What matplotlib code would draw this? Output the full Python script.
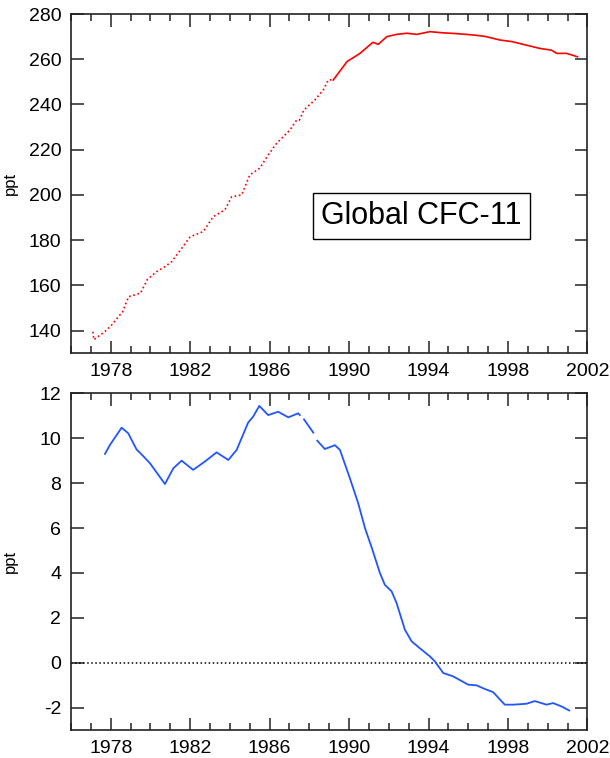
import matplotlib.pyplot as plt
from matplotlib.ticker import MultipleLocator, FixedLocator
import numpy as np

plt.rcParams['font.family'] = ['Liberation Sans', 'DejaVu Sans']
plt.rcParams['axes.unicode_minus'] = False

# CFC-11 mixing ratio (ppt), early record shown dotted, later record solid
cfc_years_early = [1977.1, 1977.15, 1977.7, 1978.05, 1978.6, 1978.9, 1979.5, 1979.85,
                   1980.3, 1980.73, 1981.07, 1981.82, 1982.0, 1982.66, 1983.16, 1983.75,
                   1984.09, 1984.59, 1985.0, 1985.5, 1985.93, 1986.35, 1987.02, 1987.36,
                   1987.5, 1987.73, 1988.28, 1988.7, 1988.95, 1989.2]
cfc_early = [139.5, 136.0, 139.5, 142.5, 148.4, 155.0, 156.6, 162.7,
             166.0, 168.3, 170.5, 179.3, 181.5, 183.8, 190.4, 193.4,
             199.2, 200.0, 208.8, 211.8, 217.7, 222.8, 228.7, 233.1,
             233.1, 237.6, 242.0, 246.4, 250.8, 251.0]

cfc_years_late = [1989.2, 1989.9, 1990.55, 1991.2, 1991.47, 1991.9, 1992.4, 1992.9,
                  1993.4, 1994.07, 1994.7, 1995.3, 1995.9, 1996.4, 1996.9, 1997.6,
                  1998.2, 1998.76, 1999.6, 2000.2, 2000.45, 2000.95, 2001.5]
cfc_late = [250.8, 259.0, 262.6, 267.5, 266.6, 270.0, 271.0, 271.5,
            271.0, 272.2, 271.7, 271.4, 271.0, 270.6, 270.0, 268.5,
            267.8, 266.6, 264.8, 264.0, 262.6, 262.6, 261.1]

# growth rate (ppt/yr); NaN marks gaps in the record
rate_years = [1977.71, 1977.96, 1978.55, 1978.88, 1979.3, 1979.64, 1979.98, 1980.73,
              1981.15, 1981.57, 1982.15, 1982.74, 1983.33, 1983.92, 1984.34, 1984.92,
              1985.17, 1985.48, 1985.93, 1986.43, 1986.94, 1987.44, 1987.52,
              1987.6,
              1987.73, 1988.2,
              1988.3,
              1988.4, 1988.78, 1989.29, 1989.54, 1990.04, 1990.46, 1990.8, 1991.15,
              1991.55, 1991.8, 1992.14, 1992.39, 1992.81, 1993.15, 1993.65, 1994.07,
              1994.32, 1994.74, 1995.24, 1996.0, 1996.42, 1996.83, 1997.25, 1997.84,
              1998.26, 1998.93, 1999.35, 1999.94, 2000.27, 2000.7, 2001.08]
rate = [9.30, 9.70, 10.47, 10.22, 9.50, 9.20, 8.88, 7.96,
        8.66, 9.00, 8.59, 8.96, 9.37, 9.03, 9.48, 10.70,
        10.96, 11.44, 11.03, 11.18, 10.93, 11.11, 11.03,
        np.nan,
        10.84, 10.25,
        np.nan,
        9.89, 9.52, 9.69, 9.48, 8.22, 7.10, 6.00, 5.10,
        4.00, 3.47, 3.18, 2.66, 1.47, 0.95, 0.58, 0.28,
        0.06, -0.46, -0.61, -0.98, -1.01, -1.17, -1.31, -1.87,
        -1.87, -1.83, -1.71, -1.87, -1.80, -1.95, -2.13]

year_ticks = [1978, 1982, 1986, 1990, 1994, 1998, 2002]

fig = plt.figure(figsize=(6.1, 7.58), dpi=100)
ax1 = fig.add_axes([0.1164, 0.534, 0.8466, 0.4475])
ax2 = fig.add_axes([0.1164, 0.0369, 0.8466, 0.4442])


def style_axes(ax):
    for s in ax.spines.values():
        s.set_color('#222222')
        s.set_linewidth(1.2)
    ax.set_xlim(1976, 2002)
    ax.xaxis.set_major_locator(FixedLocator(year_ticks))
    ax.xaxis.set_minor_locator(MultipleLocator(1))
    ax.tick_params(which='both', direction='in', top=True, right=True,
                   color='#222222', width=1.1)
    ax.tick_params(which='major', length=9, labelsize=14, pad=7)
    ax.tick_params(which='minor', length=5)
    ax.tick_params(axis='y', which='minor', left=False, right=False)
    ax.set_ylabel('ppt', fontsize=12)
    ax.yaxis.set_label_coords(-0.103, 0.5)


# top: concentration
ax1.plot(cfc_years_early, cfc_early, color='#ff0000', lw=1.2, ls=(0, (1, 1.6)))
ax1.plot(cfc_years_late, cfc_late, color='#ff0000', lw=1.2)
style_axes(ax1)
ax1.set_ylim(130, 280)
ax1.yaxis.set_major_locator(MultipleLocator(20))
ax1.text(0.678, 0.405, 'Global CFC-11', transform=ax1.transAxes, fontsize=22,
         ha='center', va='center',
         bbox=dict(facecolor='white', edgecolor='black', linewidth=1.0, pad=6))

# bottom: growth rate
ax2.axhline(0, color='black', lw=1.1, ls=':')
ax2.plot(rate_years, rate, color='#2255ff', lw=1.3)
style_axes(ax2)
ax2.set_ylim(-3, 12)
ax2.yaxis.set_major_locator(MultipleLocator(2))

fig.savefig('out.png', dpi=100)
